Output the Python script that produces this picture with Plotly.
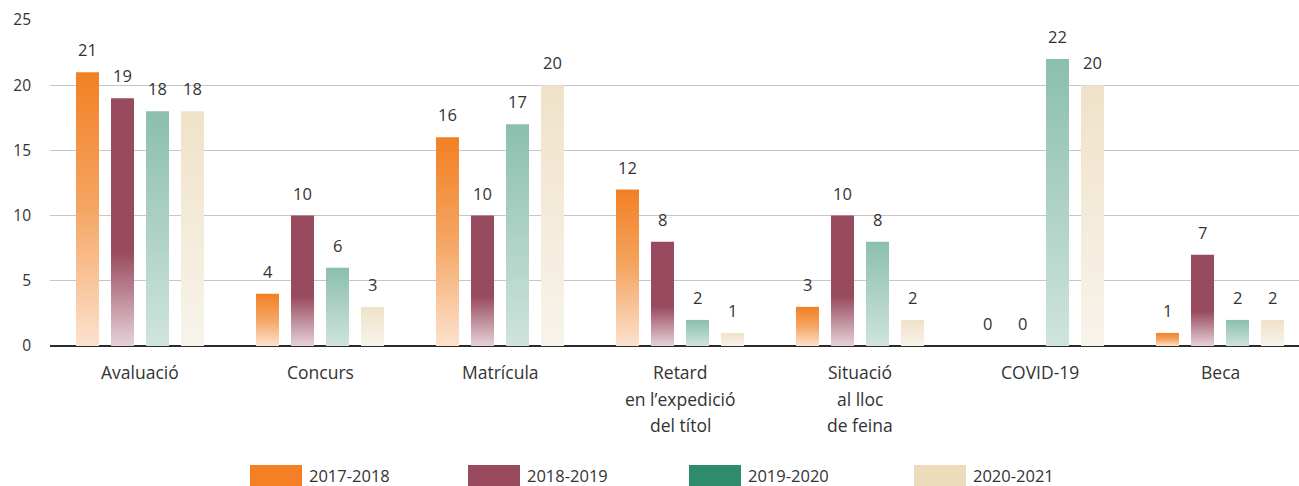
import plotly.graph_objects as go

# Data
categories = ["Avaluació", "Concurs", "Matrícula", "Retard\nen l’expedició\ndel títol",
              "Situació\nal lloc\nde feina", "COVID-19", "Beca"]
series_names = ["2017-2018", "2018-2019", "2019-2020", "2020-2021"]
v_2017_2018 = [21, 4, 16, 12, 3, 0, 1]
v_2018_2019 = [19, 10, 10, 8, 10, 0, 7]
v_2019_2020 = [18, 6, 17, 2, 8, 22, 2]
v_2020_2021 = [18, 3, 20, 1, 2, 20, 2]
y_ticks = [0, 5, 10, 15, 20, 25]

series_values = [v_2017_2018, v_2018_2019, v_2019_2020, v_2020_2021]

# Styles: legend swatch colour and vertical gradient (bottom -> top) for bars
legend_colors = ["#F47F24", "#984A5E", "#2E8C6C", "#EDDCBC"]
gradients = [
    [[0, "#FCE2CE"], [0.5, "#F5A563"], [1, "#F28024"]],
    [[0, "#E6D2D9"], [0.38, "#984A5E"], [1, "#984A5E"]],
    [[0, "#CFE4DC"], [1, "#8BBFAD"]],
    [[0, "#F8F4EB"], [1, "#EFE2C8"]],
]

FONT = "Open Sans"
TXT = "#333333"
W, H = 1299, 486
ML, MR, MT, MB = 50, 0, 20, 140
cat_px = 180.0                      # pixel width of one category slot
plot_w = W - ML - MR
plot_h = H - MT - MB
pitch = 35.0 / cat_px               # distance between bar centres in a group
half_w = 11.5 / cat_px              # half bar width

fig = go.Figure()
annotations = []

for j, (vals, grad) in enumerate(zip(series_values, gradients)):
    off = (j - 1.5) * pitch
    for i, v in enumerate(vals):
        xc = i + off
        if v > 0:
            fig.add_trace(go.Scatter(
                x=[xc - half_w, xc + half_w, xc + half_w, xc - half_w, xc - half_w],
                y=[0, 0, v, v, 0],
                mode="lines", fill="toself",
                line=dict(width=0),
                fillgradient=dict(type="vertical", colorscale=grad),
                showlegend=False, hoverinfo="skip",
            ))
        annotations.append(dict(
            x=xc, y=v, xref="x", yref="y", text=str(v), showarrow=False,
            yanchor="bottom", yshift=9,
            font=dict(family=FONT, size=16.5, color=TXT),
        ))

# Category labels, one annotation per text line
for i, c in enumerate(categories):
    for k, line in enumerate(c.split("\n")):
        annotations.append(dict(
            x=i, y=0, xref="x", yref="paper", text=line, showarrow=False,
            yanchor="middle", yshift=-26 - 26.5 * k,
            font=dict(family=FONT, size=17.5, color=TXT),
        ))


def px_x(px):
    return (px - ML) / plot_w


def px_y(py):
    return (H - MB - py) / plot_h


# Legend drawn as swatches + text
shapes = []
legend_x = [250, 468, 689, 914]
legend_text_y = [475, 475, 475, 475]
for name, col, lx, ty in zip(series_names, legend_colors, legend_x, legend_text_y):
    shapes.append(dict(
        type="rect", xref="paper", yref="paper",
        x0=px_x(lx), x1=px_x(lx + 52), y0=px_y(465), y1=px_y(488),
        fillcolor=col, line=dict(width=0), layer="above",
    ))
    annotations.append(dict(
        x=px_x(lx + 58), y=px_y(ty), xref="paper", yref="paper", text=name,
        showarrow=False, xanchor="left", yanchor="middle", borderpad=0,
        font=dict(family=FONT, size=16.5, color=TXT),
    ))

fig.update_layout(
    width=W, height=H,
    margin=dict(l=ML, r=MR, t=MT, b=MB),
    plot_bgcolor="white", paper_bgcolor="white",
    showlegend=False,
    annotations=annotations,
    shapes=shapes,
    xaxis=dict(
        range=[-0.5, -0.5 + plot_w / cat_px],
        showticklabels=False, showgrid=False, zeroline=False,
        showline=False, fixedrange=True,
    ),
    yaxis=dict(
        range=[0, 25], tickvals=y_ticks,
        showgrid=True, gridcolor="#C6C6C6", gridwidth=1.3,
        zeroline=True, zerolinecolor="#2B2B2B", zerolinewidth=1.6,
        showline=False, ticks="", ticklabelstandoff=18,
        tickfont=dict(family=FONT, size=15.5, color=TXT),
        fixedrange=True,
    ),
)

fig.write_html("out.html")
